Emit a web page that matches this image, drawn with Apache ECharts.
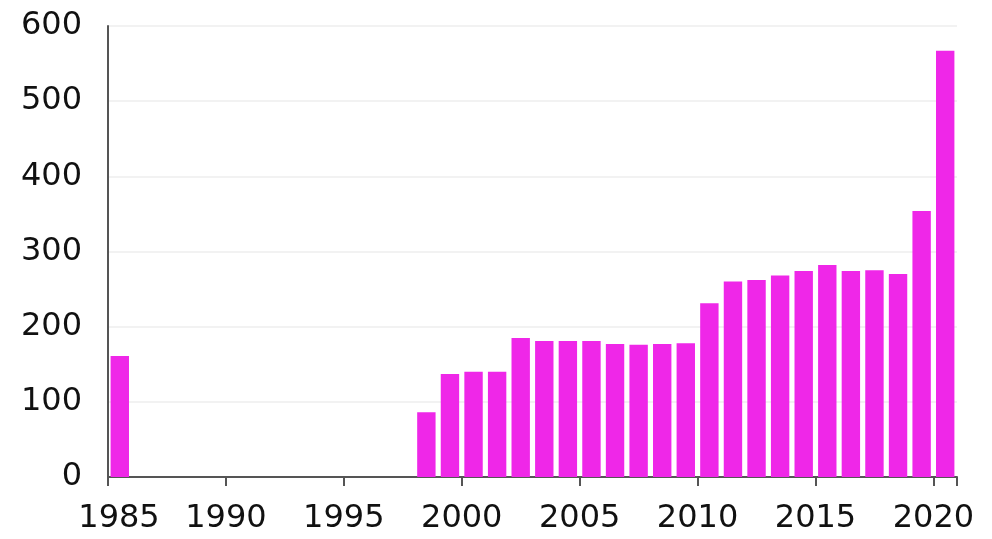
<!DOCTYPE html>
<html>
<head>
<meta charset="utf-8">
<script src="https://cdn.jsdelivr.net/npm/echarts@6/dist/echarts.min.js"></script>
<style>
html,body{margin:0;padding:0;background:#fff;}
#chart{width:992px;height:539px;}
</style>
</head>
<body>
<div id="chart"></div>
<script>
// Data
var years = [1985,1986,1987,1988,1989,1990,1991,1992,1993,1994,1995,1996,1997,1998,1999,2000,2001,2002,2003,2004,2005,2006,2007,2008,2009,2010,2011,2012,2013,2014,2015,2016,2017,2018,2019,2020];
var values = [161,null,null,null,null,null,null,null,null,null,null,null,null,86,137,140,140,185,181,181,181,177,176,177,178,231,260,262,268,274,282,274,275,270,354,567];
var xTicks = [1985,1990,1995,2000,2005,2010,2015,2020];
var yTicks = [0,100,200,300,400,500,600];

var chart = echarts.init(document.getElementById('chart'));
var fontFam = '"DejaVu Sans", sans-serif';
chart.setOption({
  animation: false,
  backgroundColor: '#ffffff',
  grid: { left: 108, right: 35, top: 26, bottom: 62, containLabel: false },
  xAxis: [
    {
      type: 'category',
      data: years.map(String),
      boundaryGap: true,
      show: false
    },
    {
      type: 'value',
      position: 'bottom',
      min: xTicks[0],
      max: xTicks[xTicks.length - 1] + 1,
      interval: xTicks[1] - xTicks[0],
      splitLine: { show: false },
      axisLine: { show: true, lineStyle: { color: '#555', width: 2 } },
      axisTick: { show: true, length: 9, lineStyle: { color: '#555', width: 2 } },
      axisLabel: {
        margin: 26,
        fontFamily: fontFam,
        fontSize: 32,
        color: '#111',
        formatter: function (v) {
          if (xTicks.indexOf(v) < 0) return '';
          if (v === xTicks[0]) return '{first|' + v + '}';
          return String(v);
        },
        rich: {
          first: { fontFamily: fontFam, fontSize: 32, color: '#111', padding: [0, 0, 0, 22] }
        }
      }
    }
  ],
  yAxis: {
    type: 'value',
    min: yTicks[0],
    max: yTicks[yTicks.length - 1],
    interval: yTicks[1] - yTicks[0],
    axisLine: { show: true, lineStyle: { color: '#555', width: 2 } },
    axisTick: { show: false },
    splitLine: { show: true, lineStyle: { color: '#eeeeee', width: 1.5 } },
    axisLabel: {
      margin: 26,
      fontFamily: fontFam,
      fontSize: 32,
      color: '#111'
    }
  },
  series: [{
    type: 'bar',
    xAxisIndex: 0,
    data: values,
    barWidth: '78%',
    itemStyle: { color: '#ef27e8' }
  }]
});
</script>
</body>
</html>
